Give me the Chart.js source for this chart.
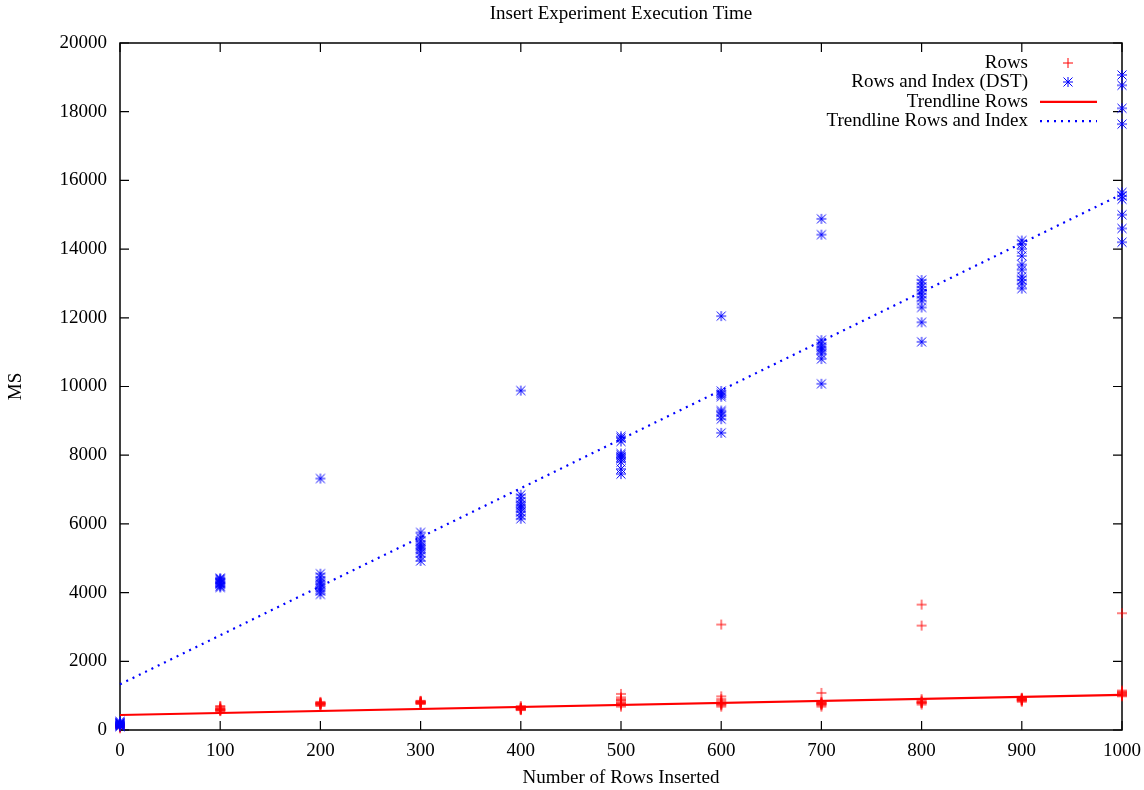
<!DOCTYPE html>
<html><head><meta charset="utf-8">
<script src="https://cdn.jsdelivr.net/npm/chart.js@4/dist/chart.umd.min.js"></script>
<style>html,body{margin:0;padding:0;background:#fff;}#wrap{width:1144px;height:790px;}</style>
</head><body><div id="wrap"><canvas id="c" width="1144" height="790"></canvas></div>
<script>
const chartTitle = 'Insert Experiment Execution Time';
const xAxisTitle = 'Number of Rows Inserted';
const yAxisTitle = 'MS';
const seriesNames = ['Rows', 'Rows and Index (DST)', 'Trendline Rows', 'Trendline Rows and Index'];
const xValues = [0, 100, 200, 300, 400, 500, 600, 700, 800, 900, 1000];
const rowsTimes = [
  [50, 100, 120, 150, 80, 130, 110, 90, 140, 160],
  [550, 580, 600, 620, 650, 680, 700, 560, 610, 590],
  [700, 720, 750, 770, 790, 800, 820, 740, 760, 780],
  [760, 780, 800, 820, 840, 850, 790, 810, 770, 830],
  [580, 600, 620, 640, 660, 700, 610, 630, 650, 590],
  [680, 720, 760, 800, 850, 900, 950, 1050, 780, 870],
  [680, 720, 760, 800, 850, 900, 980, 740, 780, 3070],
  [680, 720, 740, 760, 780, 800, 820, 1080, 750, 790],
  [740, 780, 800, 830, 860, 900, 790, 810, 3040, 3650],
  [820, 850, 870, 890, 910, 940, 860, 880, 900, 930],
  [980, 1000, 1040, 1080, 1120, 1150, 1060, 1100, 1020, 3400]
];
const indexTimes = [
  [100, 150, 180, 200, 220, 250, 120, 170, 210, 160],
  [4150, 4200, 4250, 4300, 4350, 4400, 4180, 4280, 4380, 4420],
  [3950, 4050, 4150, 4250, 4350, 4450, 4550, 4100, 4300, 7320],
  [4920, 5050, 5150, 5250, 5300, 5400, 5500, 5600, 5750, 5350],
  [6150, 6250, 6350, 6450, 6550, 6650, 6750, 6850, 6500, 9880],
  [7450, 7600, 7800, 7900, 8000, 8050, 8400, 8500, 8550, 7950],
  [8650, 9050, 9150, 9250, 9300, 9700, 9800, 9870, 9750, 12050],
  [10080, 10800, 10950, 11050, 11150, 11250, 11350, 14420, 14880, 11100],
  [11300, 11870, 12300, 12500, 12700, 12800, 12900, 13000, 13100, 12600],
  [12850, 13000, 13200, 13400, 13550, 13800, 14000, 14150, 14250, 13100],
  [14200, 14600, 15000, 15450, 15550, 15650, 17640, 18100, 18770, 19070]
];
const trendX = [0, 1000];
const trendRowsY = [437, 1020];
const trendIndexY = [1330, 15600];
const xTickValues = [0, 100, 200, 300, 400, 500, 600, 700, 800, 900, 1000];
const yTickValues = [0, 2000, 4000, 6000, 8000, 10000, 12000, 14000, 16000, 18000, 20000];

const FONT = 'Liberation Serif';
const FSIZE = 19;
const RED = '#ff0000', BLUE = '#0000ff';

function toPoints(groups) {
  const out = [];
  groups.forEach((arr, i) => arr.forEach(v => out.push({x: xValues[i], y: v})));
  return out;
}
function linePoints(ys) { return trendX.map((x, i) => ({x: x, y: ys[i]})); }

function makeMarker(color, star) {
  const c = document.createElement('canvas');
  c.width = 12; c.height = 12;
  const g = c.getContext('2d');
  g.strokeStyle = color; g.lineWidth = 1;
  g.beginPath();
  g.moveTo(1, 6); g.lineTo(11, 6);
  g.moveTo(6, 1); g.lineTo(6, 11);
  if (star) {
    g.moveTo(1.5, 1.5); g.lineTo(10.5, 10.5);
    g.moveTo(1.5, 10.5); g.lineTo(10.5, 1.5);
  }
  g.stroke();
  return c;
}
const crossMarker = makeMarker(RED, false);
const starMarker = makeMarker(BLUE, true);

const framePlugin = {
  id: 'frame',
  beforeDatasetsDraw(chart) {
    const {ctx, chartArea: a, scales} = chart;
    ctx.save();
    ctx.strokeStyle = '#000';
    ctx.lineWidth = 1.5;
    ctx.strokeRect(a.left, a.top, a.right - a.left, a.bottom - a.top);
    ctx.lineWidth = 1.2;
    ctx.beginPath();
    xTickValues.forEach(v => {
      const x = scales.x.getPixelForValue(v);
      ctx.moveTo(x, a.bottom); ctx.lineTo(x, a.bottom - 9);
      ctx.moveTo(x, a.top); ctx.lineTo(x, a.top + 9);
    });
    yTickValues.forEach(v => {
      const y = scales.y.getPixelForValue(v);
      ctx.moveTo(a.left, y); ctx.lineTo(a.left + 9, y);
      ctx.moveTo(a.right, y); ctx.lineTo(a.right - 9, y);
    });
    ctx.stroke();
    ctx.restore();
  },
  afterDraw(chart) {
    const {ctx, chartArea: a} = chart;
    const ds = chart.data.datasets;
    ctx.save();
    ctx.font = FSIZE + 'px "' + FONT + '"';
    ctx.fillStyle = '#000';
    ctx.textAlign = 'right';
    ctx.textBaseline = 'middle';
    const textX = a.right - 94, sx0 = a.right - 82, sx1 = a.right - 25, sc = a.right - 54;
    ds.forEach((d, i) => {
      const y = a.top + 20 + i * 19.4;
      ctx.fillText(d.label, textX, y);
      if (d.showLine) {
        ctx.save();
        ctx.strokeStyle = d.borderColor;
        ctx.lineWidth = d.borderWidth;
        ctx.setLineDash(d.borderDash || []);
        ctx.beginPath(); ctx.moveTo(sx0, y); ctx.lineTo(sx1, y); ctx.stroke();
        ctx.restore();
      } else {
        const img = d.pointStyle;
        ctx.drawImage(img, Math.round(sc - img.width / 2), Math.round(y - img.height / 2));
      }
    });
    ctx.restore();
  }
};

new Chart(document.getElementById('c'), {
  type: 'scatter',
  data: {
    datasets: [
      {label: seriesNames[0], data: toPoints(rowsTimes), pointStyle: crossMarker, pointRadius: 5,
       pointBorderColor: RED, pointBackgroundColor: RED, borderColor: RED, showLine: false, clip: false, order: 3},
      {label: seriesNames[1], data: toPoints(indexTimes), pointStyle: starMarker, pointRadius: 5,
       pointBorderColor: BLUE, pointBackgroundColor: BLUE, borderColor: BLUE, showLine: false, clip: false, order: 2},
      {label: seriesNames[2], data: linePoints(trendRowsY), showLine: true, pointRadius: 0, borderColor: RED,
       borderWidth: 2.2, clip: false, order: 1},
      {label: seriesNames[3], data: linePoints(trendIndexY), showLine: true, pointRadius: 0, borderColor: BLUE,
       borderWidth: 2.2, borderDash: [2, 5], clip: false, order: 0}
    ]
  },
  options: {
    responsive: false, animation: false, devicePixelRatio: 1,
    layout: {padding: {top: 0, right: 22, bottom: 0, left: 0}},
    plugins: {
      legend: {display: false},
      tooltip: {enabled: false},
      title: {display: true, text: chartTitle, fullSize: false, color: '#000',
              font: {family: FONT, size: FSIZE, weight: 'normal'}, padding: {top: 3, bottom: 17.2}}
    },
    scales: {
      x: {type: 'linear', min: 0, max: 1000,
          afterBuildTicks: s => { s.ticks = xTickValues.map(v => ({value: v})); },
          afterFit: s => { s.height = 60; s.paddingLeft = 0; s.paddingRight = 0; },
          ticks: {color: '#000', font: {family: FONT, size: FSIZE}, padding: 10, maxRotation: 0, callback: v => String(v)},
          grid: {display: false, drawTicks: false}, border: {display: false},
          title: {display: true, text: xAxisTitle, color: '#000', font: {family: FONT, size: FSIZE}, padding: {top: 0, bottom: 1}}},
      y: {type: 'linear', min: 0, max: 20000,
          afterBuildTicks: s => { s.ticks = yTickValues.map(v => ({value: v})); },
          afterFit: s => { s.width = 120; s.paddingTop = 0; s.paddingBottom = 0; },
          ticks: {color: '#000', font: {family: FONT, size: FSIZE}, padding: 13, callback: v => String(v)},
          grid: {display: false, drawTicks: false}, border: {display: false},
          title: {display: true, text: yAxisTitle, color: '#000', font: {family: FONT, size: FSIZE}, padding: {top: 5, bottom: 0}}}
    }
  },
  plugins: [framePlugin]
});
</script></body></html>
